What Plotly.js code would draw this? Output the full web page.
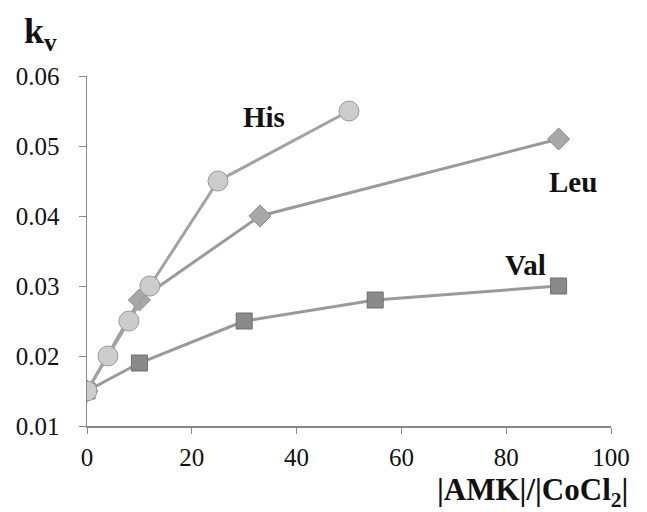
<!DOCTYPE html>
<html><head><meta charset="utf-8">
<script src="https://cdn.plot.ly/plotly-3.0.1.min.js"></script>
<style>html,body{margin:0;padding:0;background:#fff}</style>
</head><body><div id="chart" style="width:647px;height:512px"></div>
<script>
const hisX = [0, 4, 8, 12, 25, 50];
const hisY = [0.015, 0.020, 0.025, 0.030, 0.045, 0.055];
const leuX = [0, 10, 33, 90];
const leuY = [0.015, 0.028, 0.040, 0.051];
const valX = [0, 10, 30, 55, 90];
const valY = [0.015, 0.019, 0.025, 0.028, 0.030];
const xTicks = [0, 20, 40, 60, 80, 100];
const yTicks = [0.01, 0.02, 0.03, 0.04, 0.05, 0.06];
const serif = '"Liberation Serif", serif';

const traces = [
  {x: valX, y: valY, mode: 'lines+markers', name: 'Val',
   line: {color: '#9a9a9a', width: 3},
   marker: {symbol: 'square', size: 16, color: '#8a8a8a', line: {color: '#6e6e6e', width: 1}}},
  {x: leuX, y: leuY, mode: 'lines+markers', name: 'Leu',
   line: {color: '#9a9a9a', width: 3},
   marker: {symbol: 'diamond', size: 17, color: '#a8a8a8', line: {color: '#8a8a8a', width: 1}}},
  {x: hisX, y: hisY, mode: 'lines+markers', name: 'His',
   line: {color: '#a3a3a3', width: 3},
   marker: {symbol: 'circle', size: 20, color: '#cccccc', line: {color: '#9a9a9a', width: 1}}}
];

const tickFont = {family: serif, size: 25, color: '#111'};
const labFont = {family: serif, size: 29, color: '#111'};

const layout = {
  width: 647, height: 512,
  margin: {l: 87, r: 36, t: 76, b: 86},
  paper_bgcolor: '#fff', plot_bgcolor: '#fff',
  showlegend: false,
  font: {family: serif, size: 24, color: '#111'},
  xaxis: {range: [0, 100], tickvals: xTicks, ticktext: xTicks.map(String),
    showgrid: false, zeroline: false, showline: true, linecolor: '#888', linewidth: 1.5,
    ticks: 'outside', ticklen: 6, tickcolor: '#888', tickfont: tickFont, ticklabelstandoff: 2},
  yaxis: {range: [0.01, 0.06], tickvals: yTicks, ticktext: yTicks.map(v => v.toFixed(2)),
    showgrid: false, zeroline: false, showline: true, linecolor: '#888', linewidth: 1.5,
    ticks: 'outside', ticklen: 7, tickcolor: '#888', tickfont: tickFont, ticklabelstandoff: 14},
  annotations: [
    {x: 33.8, y: 0.0542, xref: 'x', yref: 'y', xanchor: 'center', yanchor: 'middle', text: '<b>His</b>', showarrow: false, font: labFont},
    {x: 92.8, y: 0.0449, xref: 'x', yref: 'y', xanchor: 'center', yanchor: 'middle', text: '<b>Leu</b>', showarrow: false, font: labFont},
    {x: 83.6, y: 0.0330, xref: 'x', yref: 'y', xanchor: 'center', yanchor: 'middle', text: '<b>Val</b>', showarrow: false, font: labFont},
    {x: (40 - 87) / 524, y: (426 - 34) / 350, xref: 'paper', yref: 'paper', xanchor: 'center', yanchor: 'middle', text: '<b>k<sub>v</sub></b>', showarrow: false, font: {family: serif, size: 36, color: '#111'}},
    {x: (532 - 87) / 524, y: (426 - 492) / 350, xref: 'paper', yref: 'paper', xanchor: 'center', yanchor: 'middle', text: '<b>|AMK|/|CoCl<sub>2</sub>|</b>', showarrow: false, font: {family: serif, size: 31, color: '#111'}}
  ]
};
Plotly.newPlot('chart', traces, layout, {displayModeBar: false, staticPlot: true});
</script></body></html>
